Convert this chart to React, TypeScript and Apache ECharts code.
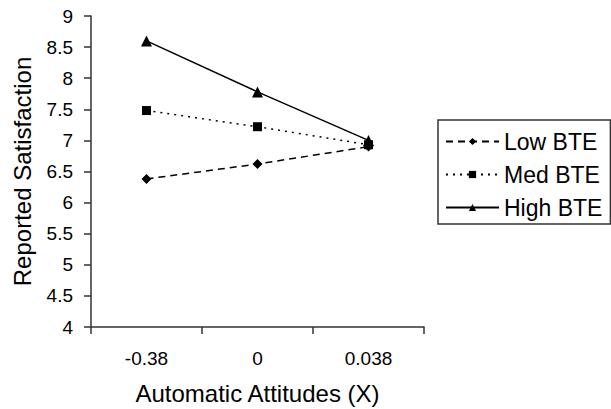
import React, { useEffect, useRef } from "react";
import * as echarts from "echarts";

const categories = ["-0.38", "0", "0.038"];
const lowBTE = [6.38, 6.62, 6.9];
const medBTE = [7.48, 7.22, 6.93];
const highBTE = [8.6, 7.78, 7.0];
const yTicks = { min: 4, max: 9, interval: 0.5 };

const FONT = "'Liberation Sans', Arial, sans-serif";

export default function App() {
  const ref = useRef<HTMLDivElement>(null);
  useEffect(() => {
    if (!ref.current) return;
    const chart = echarts.init(ref.current, undefined, { renderer: "svg" });
    const mk = (name: string, data: number[], symbol: string, size: number, type: any) => ({
      name,
      type: "line",
      data,
      symbol,
      symbolSize: size,
      itemStyle: { color: "#000" },
      lineStyle: { color: "#000", width: 1.5, type },
      emphasis: { disabled: true },
    });
    chart.setOption({
      animation: false,
      backgroundColor: "#fff",
      textStyle: { fontFamily: FONT },
      grid: {
        left: 91,
        top: 16,
        right: 187,
        bottom: 82,
        containLabel: false,
        outerBoundsMode: "none",
      },
      legend: {
        orient: "vertical",
        left: 438,
        top: 120,
        padding: [10, 8, 5, 7],
        itemWidth: 53,
        itemHeight: 9,
        itemGap: 10,
        borderColor: "#333",
        borderWidth: 1.5,
        borderRadius: 0,
        textStyle: { fontSize: 23, color: "#000", fontFamily: FONT },
        data: ["Low BTE", "Med BTE", "High BTE"],
      },
      xAxis: {
        type: "category",
        data: categories,
        boundaryGap: true,
        name: "Automatic Attitudes (X)",
        nameLocation: "middle",
        nameGap: 54,
        nameTextStyle: { fontSize: 24, color: "#000", fontFamily: FONT },
        axisLine: { lineStyle: { color: "#333", width: 1.5 } },
        axisTick: { show: true, length: 7, lineStyle: { color: "#333", width: 1.5 } },
        axisLabel: { fontSize: 19, color: "#000", margin: 22, fontFamily: FONT },
        splitLine: { show: false },
      },
      yAxis: {
        type: "value",
        min: yTicks.min,
        max: yTicks.max,
        interval: yTicks.interval,
        name: "Reported Satisfaction",
        nameLocation: "middle",
        nameGap: 57,
        nameTextStyle: { fontSize: 24, color: "#000", fontFamily: FONT },
        axisLine: { show: true, lineStyle: { color: "#333", width: 1.5 } },
        axisTick: { show: true, length: 7, lineStyle: { color: "#333", width: 1.5 } },
        axisLabel: { fontSize: 19, color: "#000", margin: 18, fontFamily: FONT },
        splitLine: { show: false },
      },
      series: [
        mk("Low BTE", lowBTE, "diamond", 10, [7, 5]),
        mk("Med BTE", medBTE, "rect", 9, [2, 5]),
        mk("High BTE", highBTE, "triangle", 11, "solid"),
      ],
    });
    return () => chart.dispose();
  }, []);
  return (
    <div
      ref={ref}
      style={{ position: "absolute", left: 0, top: 0, width: 611, height: 409 }}
    />
  );
}
